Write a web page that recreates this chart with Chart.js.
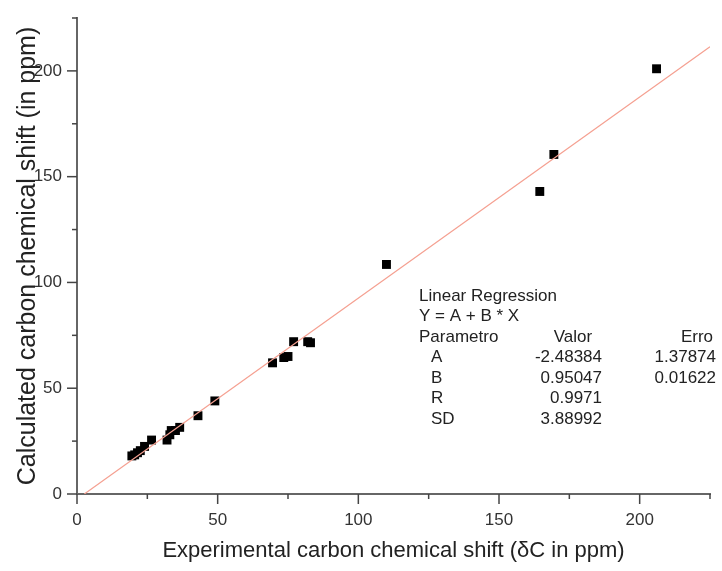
<!DOCTYPE html>
<html>
<head>
<meta charset="utf-8">
<script src="https://cdn.jsdelivr.net/npm/chart.js@4"></script>
<style>
  body { margin: 0; background: #fff; }
  #wrap { width: 722px; height: 571px; position: relative; }
</style>
</head>
<body>
<div id="wrap"><canvas id="chart"></canvas></div>
<script>
// experimental shift (x) vs calculated shift (y)
const expShift  = [19.5, 20.5, 21.5, 22.5, 24, 26.5, 32, 33, 33.5, 35, 36.5, 43, 49, 69.5, 73.5, 75, 77, 82, 83, 110, 164.5, 169.5, 206];
const calcShift = [18, 18.5, 19.5, 20.5, 22.5, 25.5, 25.5, 28, 30, 30, 31.5, 37, 44, 62, 64.5, 65, 72, 72, 71.5, 108.5, 143, 160.5, 201];

// regression table
const fitA = -2.48384;
const fitB = 0.95047;
const paramNames  = ['A', 'B', 'R', 'SD'];
const paramValues = ['-2.48384', '0.95047', '0.9971', '3.88992'];
const paramErrors = ['1.37874', '0.01622', '', ''];

const axisMax = 225;
const tickStep = 25;

let scatterPoints = expShift.map((x, i) => ({x: x, y: calcShift[i]}));
let xStart = -fitA / fitB;
let fitLine = [{x: xStart, y: 0}, {x: axisMax, y: fitA + fitB * axisMax}];

const fam = '"Liberation Sans", Arial, sans-serif';

// outward tick marks, long at labelled values, short in between
const tickMarks = {
  id: 'tickMarks',
  afterDraw(chart) {
    const ctx = chart.ctx;
    const xs = chart.scales.x, ys = chart.scales.y;
    const area = chart.chartArea;
    ctx.save();
    ctx.strokeStyle = '#444';
    ctx.lineWidth = 1.5;
    for (let v = 0; v <= axisMax; v += tickStep) {
      let len = v % 50 === 0 ? 10 : 5;
      let px = xs.getPixelForValue(v);
      ctx.beginPath();
      ctx.moveTo(px, area.bottom);
      ctx.lineTo(px, area.bottom + len);
      ctx.stroke();
      let py = ys.getPixelForValue(v);
      ctx.beginPath();
      ctx.moveTo(area.left, py);
      ctx.lineTo(area.left - len, py);
      ctx.stroke();
    }
    ctx.restore();
  }
};

// regression results box
const fitTable = {
  id: 'fitTable',
  afterDraw(chart) {
    const ctx = chart.ctx;
    const left = 419, top = 296, row = 20.5;
    ctx.save();
    ctx.font = '17px ' + fam;
    ctx.fillStyle = '#222';
    ctx.textBaseline = 'middle';
    ctx.textAlign = 'left';
    ctx.fillText('Linear Regression', left, top);
    ctx.fillText('Y = A + B * X', left, top + row);
    ctx.fillText('Parametro', left, top + row * 2);
    ctx.textAlign = 'center';
    ctx.fillText('Valor', 573, top + row * 2);
    ctx.fillText('Erro', 697, top + row * 2);
    for (let i = 0; i < paramNames.length; i++) {
      let y = top + row * (3 + i);
      ctx.textAlign = 'left';
      ctx.fillText(paramNames[i], left + 12, y);
      ctx.textAlign = 'right';
      ctx.fillText(paramValues[i], 602, y);
      if (paramErrors[i]) ctx.fillText(paramErrors[i], 716, y);
    }
    ctx.restore();
  }
};

const axisCommon = {
  type: 'linear',
  min: 0,
  max: axisMax,
  border: { display: true, color: '#666', width: 2 },
  grid: { display: true, drawOnChartArea: false, drawTicks: false },
  ticks: {
    stepSize: tickStep,
    autoSkip: false,
    maxRotation: 0,
    color: '#333',
    font: { family: fam, size: 17 },
    callback: (v) => v % 50 === 0 ? v : ''
  }
};

const ctx = document.getElementById('chart').getContext('2d');
const chart = new Chart(ctx, {
  type: 'scatter',
  plugins: [tickMarks, fitTable],
  data: {
    datasets: [
      {
        label: 'fit',
        type: 'line',
        data: fitLine,
        borderColor: '#f5a091',
        borderWidth: 1.2,
        pointRadius: 0,
        fill: false
      },
      {
        label: 'shifts',
        data: scatterPoints,
        pointStyle: 'rect',
        pointRadius: 6.3,
        backgroundColor: '#000',
        borderColor: '#000',
        borderWidth: 0
      }
    ]
  },
  options: {
    responsive: true,
    maintainAspectRatio: false,
    animation: false,
    layout: { padding: { left: 0, top: 18, right: 12, bottom: 0 } },
    plugins: {
      legend: { display: false },
      tooltip: { enabled: false }
    },
    scales: {
      x: Object.assign({}, axisCommon, {
        position: 'bottom',
        ticks: Object.assign({}, axisCommon.ticks, { padding: 16 }),
        title: {
          display: true,
          text: 'Experimental carbon chemical shift (δC in ppm)',
          color: '#222',
          font: { family: fam, size: 22 },
          padding: { top: 0, bottom: 7 }
        },
        afterFit: (s) => {
          s.height = 77;
          s.paddingLeft = 0;
          s.paddingRight = 0;
        }
      }),
      y: Object.assign({}, axisCommon, {
        position: 'left',
        ticks: Object.assign({}, axisCommon.ticks, { padding: 15 }),
        title: {
          display: true,
          text: 'Calculated carbon chemical shift (in ppm)',
          color: '#222',
          font: { family: fam, size: 25 },
          padding: { top: 13, bottom: 0 }
        },
        afterFit: (s) => {
          s.width = 77;
          s.paddingTop = 0;
          s.paddingBottom = 0;
        }
      })
    }
  }
});
</script>
</body>
</html>
